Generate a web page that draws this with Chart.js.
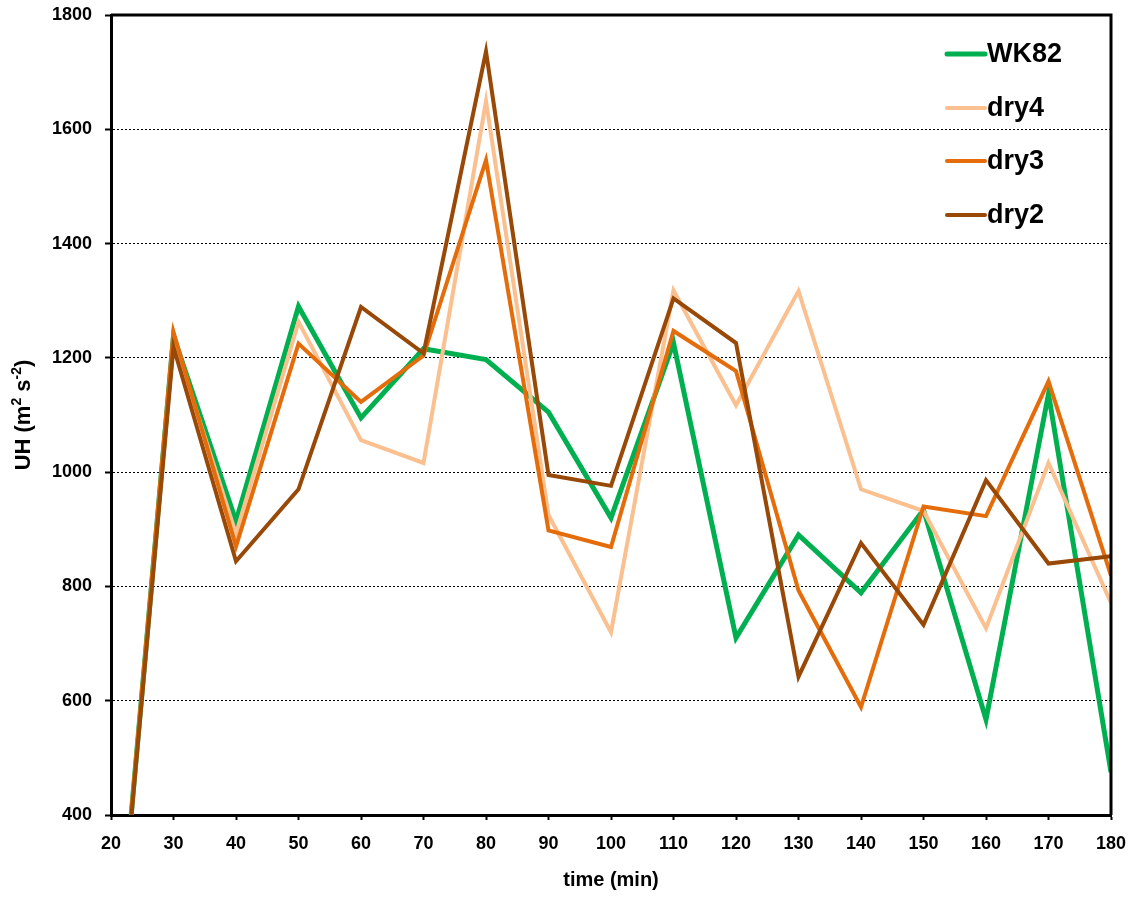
<!DOCTYPE html>
<html>
<head>
<meta charset="utf-8">
<title>UH time series</title>
<script src="https://cdn.jsdelivr.net/npm/chart.js@4/dist/chart.umd.min.js"></script>
<style>
  html, body { margin: 0; padding: 0; background: #ffffff; }
  #wrap { width: 1137px; height: 898px; position: relative; }
</style>
</head>
<body>
<div id="wrap"><canvas id="chart" width="1137" height="898"></canvas></div>
<script>
// Time axis (minutes)
const times = [20, 30, 40, 50, 60, 70, 80, 90, 100, 110, 120, 130, 140, 150, 160, 170, 180];

// Updraft helicity per experiment (m2 s-2)
const wk82 = [0, 1238, 914, 1290, 1095, 1216, 1197, 1105, 920, 1226, 710, 890, 789, 934, 567, 1137, 475];
const dry4 = [0, 1232, 892, 1263, 1056, 1016, 1649, 925, 720, 1318, 1117, 1317, 970, 932, 727, 1016, 771];
const dry3 = [0, 1245, 870, 1225, 1123, 1204, 1546, 898, 869, 1247, 1177, 793, 589, 940, 923, 1159, 819];
const dry2 = [0, 1219, 844, 970, 1289, 1208, 1736, 995, 976, 1304, 1226, 642, 876, 733, 986, 840, 853];

// Axis tick settings
const yTicks = [400, 600, 800, 1000, 1200, 1400, 1600, 1800];
const xTicks = [20, 30, 40, 50, 60, 70, 80, 90, 100, 110, 120, 130, 140, 150, 160, 170, 180];

const seriesNames = ['WK82', 'dry4', 'dry3', 'dry2'];
const seriesColors = ['#00B050', '#FAC08F', '#E46C0A', '#984807'];
const seriesWidths = [5, 4, 4, 4];
const seriesValues = [wk82, dry4, dry3, dry2];

const FONT = '"Liberation Sans", Arial, sans-serif';

function toPoints(vals) {
  return times.map((t, i) => ({ x: t, y: vals[i] }));
}

const datasets = seriesNames.map((name, i) => ({
  label: name,
  data: toPoints(seriesValues[i]),
  borderColor: seriesColors[i],
  backgroundColor: seriesColors[i],
  borderWidth: seriesWidths[i],
  pointRadius: 0,
  tension: 0,
  fill: false,
  order: seriesNames.length - i
}));

// Frame, axis titles and in-plot legend
const decorations = {
  id: 'decorations',
  afterDraw(chart) {
    const ctx = chart.ctx;
    const a = chart.chartArea;
    ctx.save();

    // plot frame (top and right edges)
    ctx.strokeStyle = '#000';
    ctx.lineWidth = 3;
    ctx.setLineDash([]);
    ctx.beginPath();
    ctx.moveTo(a.left, a.top);
    ctx.lineTo(a.right, a.top);
    ctx.lineTo(a.right, a.bottom);
    ctx.stroke();

    // x axis title
    ctx.fillStyle = '#000';
    ctx.font = 'bold 20px ' + FONT;
    ctx.textAlign = 'center';
    ctx.textBaseline = 'middle';
    ctx.fillText('time (min)', (a.left + a.right) / 2, 880);

    // y axis title with superscripts, rotated
    const parts = [
      { t: 'UH (m', big: true },
      { t: '2', big: false },
      { t: ' s', big: true },
      { t: '-2', big: false },
      { t: ')', big: true }
    ];
    const bigFont = 'bold 22px ' + FONT;
    const smallFont = 'bold 14px ' + FONT;
    let total = 0;
    parts.forEach(p => {
      ctx.font = p.big ? bigFont : smallFont;
      p.w = ctx.measureText(p.t).width;
      total += p.w;
    });
    ctx.translate(22, (a.top + a.bottom) / 2);
    ctx.rotate(-Math.PI / 2);
    ctx.textAlign = 'left';
    ctx.textBaseline = 'alphabetic';
    let cx = -total / 2;
    parts.forEach(p => {
      ctx.font = p.big ? bigFont : smallFont;
      ctx.fillText(p.t, cx, p.big ? 8 : -1);
      cx += p.w;
    });
    ctx.setTransform(1, 0, 0, 1, 0, 0);

    // legend
    const lx0 = 947, lx1 = 985, textX = 987;
    const rowY = [54, 108, 161, 215];
    chart.data.datasets.forEach((ds, i) => {
      const y = rowY[i];
      ctx.strokeStyle = ds.borderColor;
      ctx.lineWidth = ds.borderWidth;
      ctx.lineCap = 'round';
      ctx.beginPath();
      ctx.moveTo(lx0, y);
      ctx.lineTo(lx1, y);
      ctx.stroke();
      ctx.fillStyle = '#000';
      ctx.font = 'bold 27px ' + FONT;
      ctx.textAlign = 'left';
      ctx.textBaseline = 'middle';
      ctx.fillText(ds.label, textX, y + 1);
    });
    ctx.restore();
  }
};

new Chart(document.getElementById('chart'), {
  type: 'line',
  data: { datasets },
  options: {
    responsive: false,
    animation: false,
    maintainAspectRatio: false,
    layout: { padding: { left: 0, top: 15, right: 26, bottom: 0 } },
    plugins: {
      legend: { display: false },
      tooltip: { enabled: false }
    },
    scales: {
      x: {
        type: 'linear',
        min: 20,
        max: 180,
        afterBuildTicks(scale) { scale.ticks = xTicks.map(v => ({ value: v })); },
        afterFit(scale) {
          scale.height = 83;
          scale.paddingLeft = 0;
          scale.paddingRight = 0;
        },
        border: { display: true, color: '#000', width: 3 },
        grid: {
          display: true,
          drawOnChartArea: false,
          drawTicks: true,
          tickLength: 5,
          tickColor: '#000',
          tickWidth: 2
        },
        ticks: {
          color: '#000',
          font: { family: FONT, size: 18, weight: 'bold' },
          padding: 13,
          maxRotation: 0,
          autoSkip: false,
          callback: v => String(v)
        }
      },
      y: {
        type: 'linear',
        min: 400,
        max: 1800,
        afterBuildTicks(scale) { scale.ticks = yTicks.map(v => ({ value: v })); },
        afterFit(scale) {
          scale.width = 111;
          scale.paddingTop = 0;
          scale.paddingBottom = 0;
        },
        border: { display: true, color: '#000', width: 3, dash: [2, 2] },
        grid: {
          display: true,
          drawOnChartArea: true,
          drawTicks: true,
          tickLength: 6,
          tickColor: '#000',
          tickWidth: 2,
          tickBorderDash: [],
          lineWidth: 1,
          color: ctx => (ctx.tick && (ctx.tick.value === 400 || ctx.tick.value === 1800)) ? 'rgba(0,0,0,0)' : '#000'
        },
        ticks: {
          color: '#000',
          font: { family: FONT, size: 18, weight: 'bold' },
          padding: 13,
          autoSkip: false,
          callback: v => String(v)
        }
      }
    }
  },
  plugins: [decorations]
});
</script>
</body>
</html>
